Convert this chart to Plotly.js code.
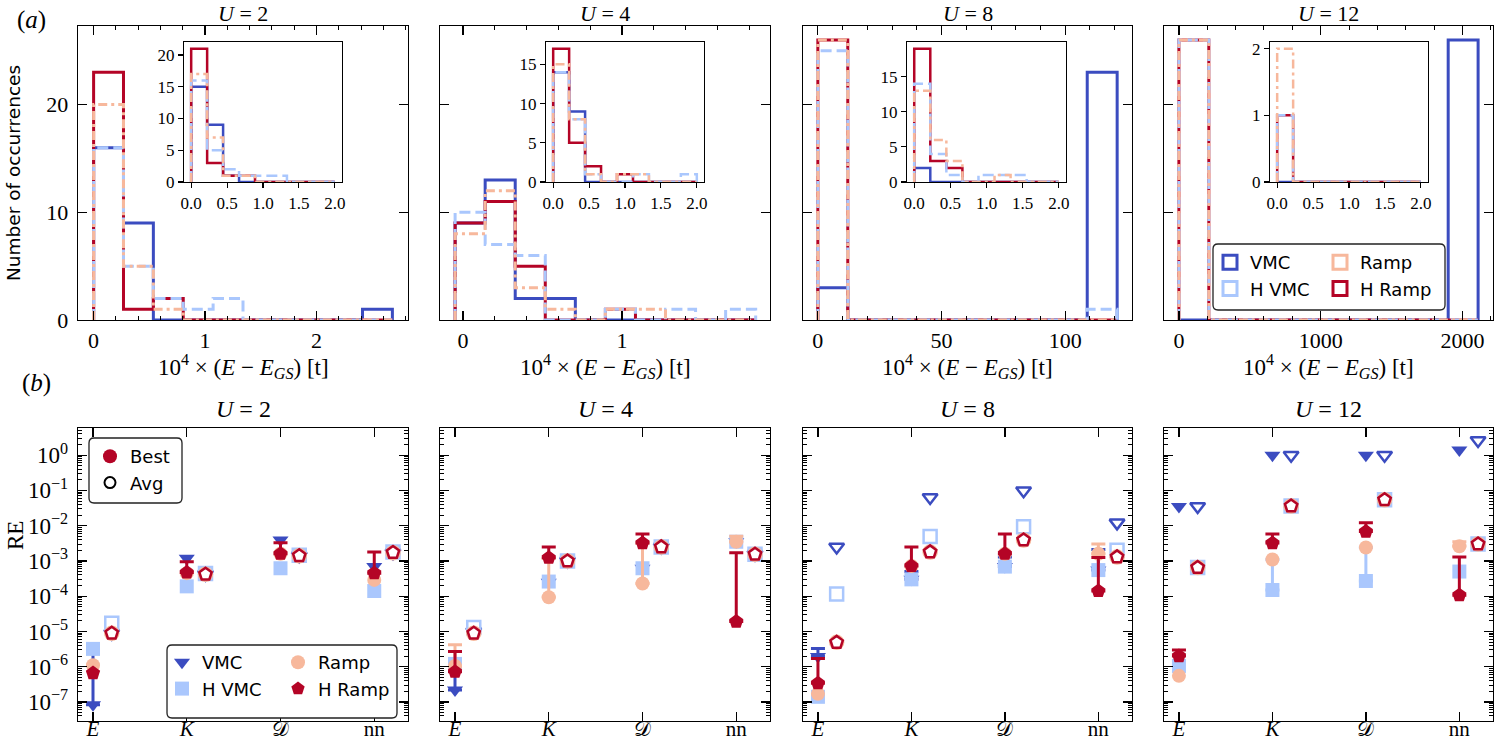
<!DOCTYPE html>
<html>
<head>
<meta charset="utf-8">
<script src="https://cdn.plot.ly/plotly-3.0.1.min.js"></script>
<style>html,body{margin:0;padding:0;background:#fff;}#chart{width:1495px;height:744px;}</style>
</head>
<body>
<div id="chart"></div>
<script>
var W = 1495, H = 744;

var uValues = [2, 4, 8, 12];
var methods = ['VMC', 'H VMC', 'Ramp', 'H Ramp'];
var methodColors = ['#3b4cc0', '#aac7fd', '#f7b89c', '#b40426'];

// (a) main histograms: 10 equal bins over each range, counts in order VMC, H VMC, Ramp, H Ramp
var mainBinRanges = [[0, 2.68], [-0.05, 1.84], [0, 121], [0, 2110]];
var mainCountsU2 = [
  [16, 9, 0, 0, 0, 0, 0, 0, 0, 1],
  [16, 5, 2, 1, 2, 0, 0, 0, 0, 0],
  [20, 5, 1, 0, 0, 0, 0, 0, 0, 0],
  [23, 1, 2, 0, 0, 0, 0, 0, 0, 0]
];
var mainCountsU4 = [
  [9, 13, 2, 2, 0, 0, 0, 0, 0, 0],
  [10, 7, 6, 0, 0, 1, 0, 1, 0, 1],
  [8, 12, 3, 1, 0, 1, 1, 0, 0, 0],
  [9, 11, 5, 0, 0, 1, 0, 0, 0, 0]
];
var mainCountsU8 = [
  [3, 0, 0, 0, 0, 0, 0, 0, 0, 23],
  [25, 0, 0, 0, 0, 0, 0, 0, 0, 1],
  [26, 0, 0, 0, 0, 0, 0, 0, 0, 0],
  [26, 0, 0, 0, 0, 0, 0, 0, 0, 0]
];
var mainCountsU12 = [
  [0, 0, 0, 0, 0, 0, 0, 0, 0, 26],
  [26, 0, 0, 0, 0, 0, 0, 0, 0, 0],
  [26, 0, 0, 0, 0, 0, 0, 0, 0, 0],
  [26, 0, 0, 0, 0, 0, 0, 0, 0, 0]
];

// insets: 9 equal bins on [0, 2]
var insetBinRange = [0, 2];
var insetCountsU2 = [
  [15, 9, 1, 0, 0, 0, 0, 0, 0],
  [16, 5, 2, 1, 1, 1, 0, 0, 0],
  [17, 7, 1, 1, 0, 0, 0, 0, 0],
  [21, 3, 1, 1, 0, 0, 0, 0, 0]
];
var insetCountsU4 = [
  [14, 9, 0, 0, 0, 0, 0, 0, 0],
  [14, 8, 1, 0, 0, 1, 0, 0, 1],
  [15, 8, 1, 0, 1, 1, 0, 0, 0],
  [17, 5, 2, 0, 1, 0, 0, 0, 0]
];
var insetCountsU8 = [
  [2, 0, 0, 0, 0, 0, 0, 0, 0],
  [14, 4, 1, 0, 1, 1, 1, 0, 0],
  [13, 6, 3, 0, 0, 1, 0, 0, 0],
  [19, 3, 2, 0, 0, 0, 0, 0, 0]
];
var insetCountsU12 = [
  [0, 0, 0, 0, 0, 0, 0, 0, 0],
  [1, 0, 0, 0, 0, 0, 0, 0, 0],
  [2, 0, 0, 0, 0, 0, 0, 0, 0],
  [1, 0, 0, 0, 0, 0, 0, 0, 0]
];

// (b) relative errors per observable: best run, upper end of the bar, average
var observables = ['<i>E</i>', '<i>K</i>', '\ud835\udc9f', 'nn'];
var bestU2 = [
  [8.3e-8, 1.2e-3, 3.9e-3, 6.9e-4],
  [3.2e-6, 1.9e-4, 6.2e-4, 1.4e-4],
  [1.1e-6, 4.5e-4, 1.6e-3, 2.9e-4],
  [6.6e-7, 4.7e-4, 1.6e-3, 4.5e-4]
];
var upperU2 = [
  [4.0e-6, null, null, null],
  [null, null, null, null],
  [null, null, null, null],
  [null, 9.5e-4, 3.3e-3, 1.8e-3]
];
var avgU2 = [
  [8.9e-6, 4.2e-4, 1.4e-3, 1.7e-3],
  [1.7e-5, 4.4e-4, 1.45e-3, 1.8e-3],
  [8.9e-6, 4.2e-4, 1.4e-3, 1.7e-3],
  [8.9e-6, 4.2e-4, 1.4e-3, 1.74e-3]
];
var bestU4 = [
  [2.2e-7, 2.5e-4, 6.2e-4, 3.5e-3],
  [1.2e-6, 2.6e-4, 6.2e-4, 3.5e-3],
  [1.05e-6, 9.3e-5, 2.3e-4, 3.5e-3],
  [7.2e-7, 1.23e-3, 3.2e-3, 1.9e-5]
];
var upperU4 = [
  [1.0e-6, null, null, null],
  [null, null, null, null],
  [4.2e-6, 1.2e-3, 3.2e-3, 5.0e-3],
  [2.7e-6, 2.5e-3, 5.8e-3, 1.7e-3]
];
var avgU4 = [
  [1.0e-5, 1.0e-3, 2.5e-3, 1.55e-3],
  [1.3e-5, 1.0e-3, 2.5e-3, 1.55e-3],
  [8.9e-6, 1.0e-3, 2.5e-3, 1.55e-3],
  [8.9e-6, 1.0e-3, 2.5e-3, 1.55e-3]
];
var bestU8 = [
  [1.95e-6, 3.0e-4, 6.9e-4, 5.5e-4],
  [1.4e-7, 3.0e-4, 6.9e-4, 5.5e-4],
  [1.7e-7, 7.2e-4, 1.6e-3, 1.6e-3],
  [3.4e-7, 7.2e-4, 1.6e-3, 1.4e-4]
];
var upperU8 = [
  [3.3e-6, 5.0e-4, 1.3e-3, 2.1e-3],
  [null, null, null, null],
  [null, null, null, 3.0e-3],
  [1.7e-6, 2.5e-3, 5.8e-3, 1.25e-3]
];
var avgU8 = [
  [2.5e-3, 6.3e-2, 9.8e-2, 1.2e-2],
  [1.15e-4, 4.9e-3, 9.3e-3, 2.0e-3],
  [4.9e-6, 1.8e-3, 3.9e-3, 1.3e-3],
  [4.9e-6, 1.8e-3, 3.9e-3, 1.3e-3]
];
var bestU12 = [
  [3.5e-2, 1.0, 1.0, 1.4],
  [1.05e-6, 1.5e-4, 2.7e-4, 5.0e-4],
  [5.5e-7, 1.1e-3, 2.4e-3, 2.6e-3],
  [2.0e-6, 3.2e-3, 6.8e-3, 1.07e-4]
];
var upperU12 = [
  [null, null, null, null],
  [null, 1.1e-3, 2.4e-3, null],
  [null, null, null, 3.5e-3],
  [3.0e-6, 5.8e-3, 1.2e-2, 1.3e-3]
];
var avgU12 = [
  [3.5e-2, 1.0, 1.0, 2.6],
  [6.5e-4, 3.6e-2, 5.4e-2, 3.0e-3],
  [6.5e-4, 3.6e-2, 5.4e-2, 3.0e-3],
  [6.5e-4, 3.6e-2, 5.4e-2, 3.0e-3]
];
var decadeTicks = [1e-7, 1e-6, 1e-5, 1e-4, 1e-3, 1e-2, 1e-1, 1];
var decadeLabels = ['10<sup>\u22127</sup>', '10<sup>\u22126</sup>', '10<sup>\u22125</sup>', '10<sup>\u22124</sup>',
  '10<sup>\u22123</sup>', '10<sup>\u22122</sup>', '10<sup>\u22121</sup>', '10<sup>0</sup>'];

var mainCounts = [mainCountsU2, mainCountsU4, mainCountsU8, mainCountsU12];
var insetCounts = [insetCountsU2, insetCountsU4, insetCountsU8, insetCountsU12];
var bestAll = [bestU2, bestU4, bestU8, bestU12];
var upperAll = [upperU2, upperU4, upperU8, upperU12];
var avgAll = [avgU2, avgU4, avgU8, avgU12];

// geometry (pixels)
var colPx = [[78, 408], [440, 770], [803, 1132], [1164, 1493]];
var insetPx = [[184, 342], [546, 704], [907, 1066], [1270, 1428]];
var topRowPx = [26, 320], insetRowPx = [42, 182], botRowPx = [428, 721];
var mainXRanges = [[-0.14, 2.82], [-0.145, 1.93], [-6, 127], [-105, 2215]];
var mainXTicks = [[0, 1, 2], [0, 1], [0, 50, 100], [0, 1000, 2000]];
var mainXMinor = [0.2, 0.2, 10, 200];
var insetYMax = [22.05, 17.85, 19.95, 2.1];
var insetYStep = [5, 5, 5, 1];

var serif = 'Liberation Serif, DejaVu Serif, serif';
var sans = 'DejaVu Sans, sans-serif';
var histDash = ['solid', '11px,5px', '9px,4px,3px,4px', 'solid'];
var bestSymbols = ['triangle-down', 'square', 'circle', 'pentagon'];
var drawOrder = [0, 3, 1, 2];

function px2x(p) { return p / W; }
function px2y(p) { return 1 - p / H; }
function xdom(a) { return [a[0] / W, a[1] / W]; }
function ydom(a) { return [1 - a[1] / H, 1 - a[0] / H]; }
function axId(n, letter) { return n === 1 ? letter : letter + n; }
function axKey(n, letter) { return n === 1 ? letter + 'axis' : letter + 'axis' + n; }

function stepXY(range, n, counts) {
  var w = (range[1] - range[0]) / n;
  var xs = [range[0]], ys = [0];
  for (var i = 0; i <= n; i++) xs.push(range[0] + i * w);
  return {x: xs, y: ys.concat(counts, [0])};
}

function frameAxis(extra) {
  var base = {
    showline: true, linecolor: '#000', linewidth: 1.3, mirror: 'allticks',
    ticks: 'inside', ticklen: 9, tickwidth: 1.3, tickcolor: '#000',
    showgrid: false, zeroline: false, fixedrange: true,
    tickfont: {family: serif, size: 22, color: '#000'}
  };
  return Object.assign(base, extra);
}

// text placed by pixel centre
function label(xp, yp, text, font, extra) {
  return Object.assign({xref: 'paper', yref: 'paper', x: px2x(xp), y: px2y(yp), xanchor: 'center', yanchor: 'middle',
    text: text, showarrow: false, font: font}, extra || {});
}

var traces = [];
var layout = {
  width: W, height: H,
  margin: {l: 0, r: 0, t: 0, b: 0},
  paper_bgcolor: '#fff', plot_bgcolor: 'rgba(0,0,0,0)',
  showlegend: true,
  annotations: [], shapes: []
};

uValues.forEach(function (u, i) {
  var nMain = i + 1, nIn = i + 5, nBot = i + 9;

  // (a) main histogram
  drawOrder.forEach(function (m) {
    var s = stepXY(mainBinRanges[i], 10, mainCounts[i][m]);
    traces.push({
      type: 'scatter', mode: 'lines', x: s.x, y: s.y,
      xaxis: axId(nMain, 'x'), yaxis: axId(nMain, 'y'),
      line: {color: methodColors[m], width: 3, dash: histDash[m], shape: 'hv'},
      showlegend: false, hoverinfo: 'skip'
    });
  });
  // inset histogram
  drawOrder.forEach(function (m) {
    var s = stepXY(insetBinRange, 9, insetCounts[i][m]);
    traces.push({
      type: 'scatter', mode: 'lines', x: s.x, y: s.y,
      xaxis: axId(nIn, 'x'), yaxis: axId(nIn, 'y'),
      line: {color: methodColors[m], width: 2.5, dash: histDash[m], shape: 'hv'},
      showlegend: false, hoverinfo: 'skip'
    });
  });
  // (b) best with bars, then averages shifted right
  var obsPos = [0, 1, 2, 3];
  var avgShift = 0.2;
  [0, 1, 2, 3].forEach(function (m) {
    var best = bestAll[i][m], up = upperAll[i][m];
    var plus = best.map(function (b, k) { return up[k] === null ? NaN : up[k] - b; });
    traces.push({
      type: 'scatter', mode: 'markers', x: obsPos, y: best,
      xaxis: axId(nBot, 'x'), yaxis: axId(nBot, 'y'),
      marker: {symbol: bestSymbols[m], size: m === 3 ? 15 : 14, color: methodColors[m], line: {width: 0}},
      error_y: {type: 'data', symmetric: false, array: plus, color: methodColors[m], thickness: 3, width: 7},
      showlegend: false, hoverinfo: 'skip'
    });
  });
  [0, 1, 2, 3].forEach(function (m) {
    traces.push({
      type: 'scatter', mode: 'markers',
      x: obsPos.map(function (p) { return p + avgShift; }), y: avgAll[i][m],
      xaxis: axId(nBot, 'x'), yaxis: axId(nBot, 'y'),
      marker: {symbol: bestSymbols[m], size: 13, color: '#fff', line: {width: 2.5, color: methodColors[m]}},
      showlegend: false, hoverinfo: 'skip'
    });
  });

  // axes
  layout[axKey(nMain, 'x')] = frameAxis({
    domain: xdom(colPx[i]), anchor: axId(nMain, 'y'), range: mainXRanges[i],
    tickmode: 'array', tickvals: mainXTicks[i],
    minor: {ticks: 'inside', ticklen: 4, tickwidth: 1, tickcolor: '#000', dtick: mainXMinor[i], tick0: 0}
  });
  layout[axKey(nMain, 'y')] = frameAxis({
    domain: ydom(topRowPx), anchor: axId(nMain, 'x'), range: [0, 27.3],
    tickmode: 'array', tickvals: [0, 10, 20], showticklabels: i === 0, ticklabelstandoff: 4
  });
  layout[axKey(nIn, 'x')] = frameAxis({
    domain: xdom(insetPx[i]), anchor: axId(nIn, 'y'), range: [-0.1, 2.1],
    mirror: true, ticks: 'outside', ticklen: 5, tickwidth: 1.1, linewidth: 1.2,
    tickmode: 'linear', tick0: 0, dtick: 0.5, tickformat: '.1f',
    tickfont: {family: serif, size: 17, color: '#000'}
  });
  layout[axKey(nIn, 'y')] = frameAxis({
    domain: ydom(insetRowPx), anchor: axId(nIn, 'x'), range: [0, insetYMax[i]],
    mirror: true, ticks: 'outside', ticklen: 5, tickwidth: 1.1, linewidth: 1.2,
    tickmode: 'linear', tick0: 0, dtick: insetYStep[i],
    tickfont: {family: serif, size: 17, color: '#000'}
  });
  layout[axKey(nBot, 'x')] = frameAxis({
    domain: xdom(colPx[i]), anchor: axId(nBot, 'y'), range: [-0.16, 3.36],
    tickmode: 'array', tickvals: obsPos, ticktext: observables, ticklabelstandoff: -12,
    tickfont: {family: serif, size: 21, color: '#000'}
  });
  layout[axKey(nBot, 'y')] = frameAxis({
    type: 'log', domain: ydom(botRowPx), anchor: axId(nBot, 'x'), range: [-7.54, 0.77],
    tickmode: 'array', tickvals: decadeTicks, ticktext: decadeLabels,
    showticklabels: i === 0, ticklabelstandoff: 4,
    tickfont: {family: serif, size: 23, color: '#000'},
    minor: {ticks: 'inside', ticklen: 4, tickwidth: 1, tickcolor: '#000', dtick: 'D1'}
  });

  // titles
  var cx = (colPx[i][0] + colPx[i][1]) / 2;
  var titleFont = {family: serif, size: 22, color: '#000'};
  layout.annotations.push(
    label(cx, 14, '<i>U</i> = ' + u, titleFont),
    label(cx, 409, '<i>U</i> = ' + u, {family: serif, size: 24, color: '#000'}),
    label(cx, 366, '10<sup>4</sup> \u00d7 (<i>E</i> \u2212 <i>E</i><sub><i>GS</i></sub>) [t]',
      {family: serif, size: 23, color: '#000'})
  );
});

// legend entries (markers only, no data)
function legendEntry(name, legend, marker, xa, ya) {
  return {type: 'scatter', mode: 'markers', x: [null], y: [null], xaxis: xa, yaxis: ya,
    name: name, legend: legend, marker: marker, hoverinfo: 'skip'};
}
[[0, 'legend'], [1, 'legend'], [2, 'legend2'], [3, 'legend2']].forEach(function (e) {
  var c = methodColors[e[0]];
  traces.push(legendEntry(methods[e[0]], e[1],
    {symbol: 'square-open', size: 14, color: c, line: {width: 3, color: c}}, 'x4', 'y4'));
});
[[0, 'legend3'], [1, 'legend3'], [2, 'legend4'], [3, 'legend4']].forEach(function (e) {
  var c = methodColors[e[0]];
  traces.push(legendEntry(methods[e[0]], e[1], {symbol: bestSymbols[e[0]], size: 14, color: c}, 'x9', 'y9'));
});
traces.push(
  legendEntry('Best', 'legend5', {symbol: 'circle', size: 14, color: methodColors[3]}, 'x9', 'y9'),
  legendEntry('Avg', 'legend5', {symbol: 'circle', size: 11, color: '#fff', line: {width: 2, color: '#000'}}, 'x9', 'y9')
);

function legendAt(xp, yp) {
  return {x: px2x(xp), y: px2y(yp), xanchor: 'left', yanchor: 'top', bgcolor: 'rgba(0,0,0,0)',
    borderwidth: 0, font: {family: sans, size: 18, color: '#000'}, orientation: 'v', itemwidth: 30};
}
layout.legend = legendAt(1210, 244);
layout.legend2 = legendAt(1320, 244);
layout.legend3 = legendAt(162, 644);
layout.legend4 = legendAt(278, 644);
layout.legend5 = legendAt(90, 438);

function roundRect(x0, y0, x1, y1, r) {
  var X = function (p) { return px2x(p).toFixed(5); };
  var Y = function (p) { return px2y(p).toFixed(5); };
  return 'M' + X(x0 + r) + ',' + Y(y0) + ' L' + X(x1 - r) + ',' + Y(y0) +
    ' Q' + X(x1) + ',' + Y(y0) + ' ' + X(x1) + ',' + Y(y0 + r) +
    ' L' + X(x1) + ',' + Y(y1 - r) + ' Q' + X(x1) + ',' + Y(y1) + ' ' + X(x1 - r) + ',' + Y(y1) +
    ' L' + X(x0 + r) + ',' + Y(y1) + ' Q' + X(x0) + ',' + Y(y1) + ' ' + X(x0) + ',' + Y(y1 - r) +
    ' L' + X(x0) + ',' + Y(y0 + r) + ' Q' + X(x0) + ',' + Y(y0) + ' ' + X(x0 + r) + ',' + Y(y0) + ' Z';
}
[[1213, 244, 1445, 310], [167, 645, 397, 718], [89, 438, 182, 503]].forEach(function (b) {
  layout.shapes.push({type: 'path', xref: 'paper', yref: 'paper', layer: 'above',
    path: roundRect(b[0], b[1], b[2], b[3], 5), line: {color: '#222', width: 1.3}, fillcolor: '#fff'});
});

layout.annotations.push(
  label(31, 20, '(<i>a</i>)', {family: serif, size: 25, color: '#000'}),
  label(36, 383, '(<i>b</i>)', {family: serif, size: 25, color: '#000'}),
  label(13, 173, 'Number of occurrences', {family: sans, size: 18.5, color: '#000'}, {textangle: -90}),
  label(15, 536, 'RE', {family: serif, size: 23, color: '#000'}, {textangle: -90})
);

Plotly.newPlot('chart', traces, layout, {staticPlot: true, displayModeBar: false});
</script>
</body>
</html>
